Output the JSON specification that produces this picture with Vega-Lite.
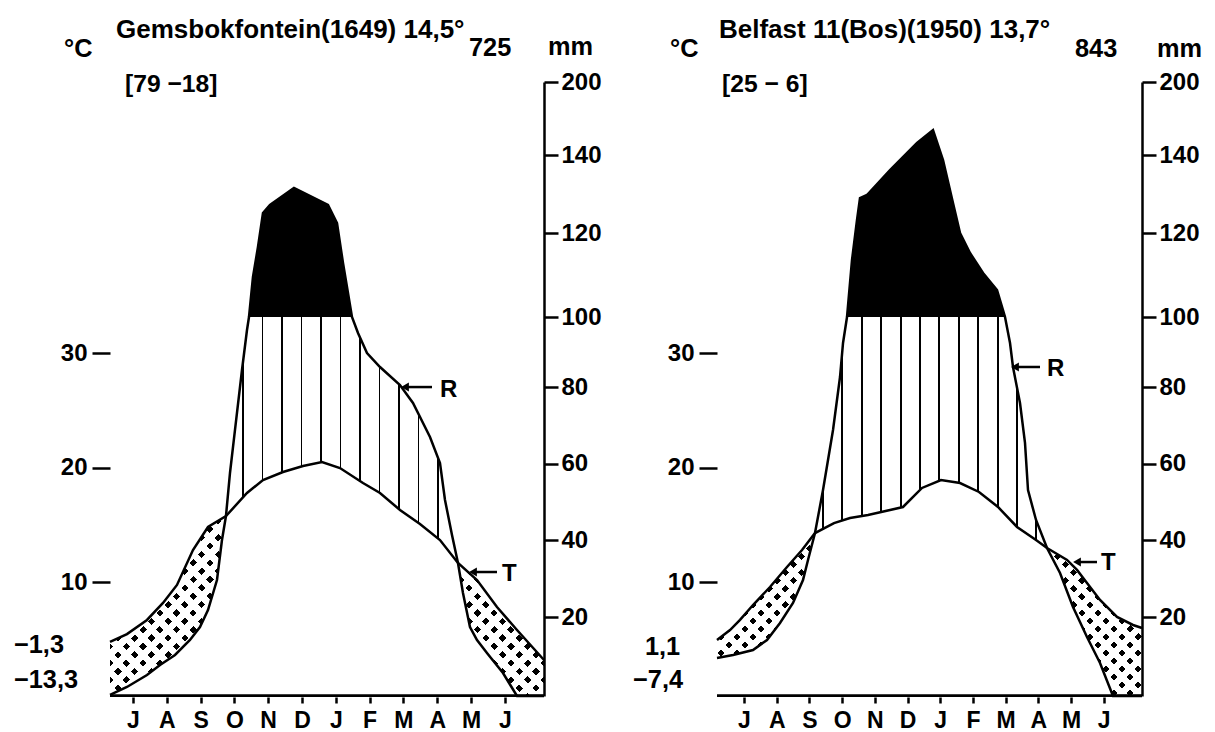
{
"$schema":"https://vega.github.io/schema/vega-lite/v6.json",
"width":1032,"height":640,
"autosize":{"type":"none"},
"padding":{"left":110,"top":57,"right":73,"bottom":35},
"background":"white",
"config":{"view":{"stroke":null},"axis":{"labelFont":"Liberation Sans","labelFontWeight":"bold","labelColor":"black","tickColor":"black","domainColor":"black","grid":false,"labelOverlap":false,"labelFlush":false,"zindex":1}},
"datasets":{
"tL":[{"m":-0.680,"t":4.80},{"m":-0.178,"t":5.49},{"m":0.414,"t":6.72},{"m":0.888,"t":8.20},{"m":1.302,"t":9.77},{"m":1.775,"t":12.82},{"m":2.219,"t":14.83},{"m":2.751,"t":15.78},{"m":3.373,"t":17.79},{"m":3.846,"t":18.92},{"m":4.438,"t":19.62},{"m":5.030,"t":20.15},{"m":5.592,"t":20.49},{"m":6.124,"t":19.97},{"m":6.805,"t":18.66},{"m":7.308,"t":17.79},{"m":7.899,"t":16.31},{"m":8.491,"t":15.09},{"m":9.083,"t":13.69},{"m":9.615,"t":11.69},{"m":10.178,"t":10.20},{"m":10.769,"t":7.85},{"m":11.361,"t":5.84},{"m":12.160,"t":3.23}],
"rL":[{"m":-0.680,"r":0.3},{"m":-0.178,"r":2.28},{"m":0.414,"r":5.32},{"m":0.799,"r":7.85},{"m":1.243,"r":10.38},{"m":1.686,"r":14.18},{"m":1.982,"r":17.47},{"m":2.219,"r":21.83},{"m":2.485,"r":29.65},{"m":2.633,"r":40.09},{"m":2.751,"r":46.35},{"m":2.870,"r":57.57},{"m":3.018,"r":68.79},{"m":3.225,"r":84.86},{"m":3.373,"r":96.29},{"m":3.432,"r":100},{"m":3.550,"r":109.52},{"m":3.698,"r":116.67},{"m":3.846,"r":125.13},{"m":4.053,"r":127.18},{"m":4.763,"r":131.54},{"m":5.769,"r":127.18},{"m":6.036,"r":122.56},{"m":6.213,"r":112.86},{"m":6.479,"r":100},{"m":6.657,"r":95.43},{"m":6.923,"r":89.71},{"m":7.308,"r":85.71},{"m":7.899,"r":80.57},{"m":8.284,"r":75.83},{"m":8.787,"r":66.96},{"m":9.083,"r":60.17},{"m":9.231,"r":50.52},{"m":9.438,"r":41.39},{"m":9.615,"r":34.09},{"m":9.763,"r":26.26},{"m":9.970,"r":17.47},{"m":10.178,"r":14.18},{"m":10.473,"r":10.89},{"m":10.947,"r":5.82},{"m":11.361,"r":0},{"m":12.160,"r":0}],
"anL":[{"m":-2.041,"t":55.81,"label":"°C","kind":"note"},{"m":-0.503,"t":57.47,"label":"Gemsbokfontein(1649) 14,5°","kind":"title"},{"m":9.941,"t":55.90,"label":"725","kind":"note"},{"m":12.278,"t":55.99,"label":"mm","kind":"note"},{"m":-0.237,"t":52.76,"label":"[79 −18]","kind":"bracket"},{"m":-3.521,"t":3.84,"label":"−1,3","kind":"note"},{"m":-3.521,"t":0.78,"label":"−13,3","kind":"note"},{"m":9.083,"t":26.16,"label":"R","kind":"arrow"},{"m":10.917,"t":10.12,"label":"T","kind":"arrow"}],
"arL":[{"m":8.047,"m2":8.846,"t":27.03},{"m":10.059,"m2":10.769,"t":10.90}],
"tR":[{"m":-0.826,"t":4.97},{"m":-0.428,"t":5.84},{"m":-0.122,"t":6.72},{"m":0.275,"t":8.02},{"m":0.795,"t":9.59},{"m":1.315,"t":11.34},{"m":1.774,"t":12.82},{"m":2.171,"t":14.30},{"m":2.752,"t":15.17},{"m":3.242,"t":15.61},{"m":3.792,"t":15.87},{"m":4.862,"t":16.57},{"m":5.443,"t":18.23},{"m":6.024,"t":18.92},{"m":6.606,"t":18.66},{"m":7.187,"t":17.88},{"m":7.768,"t":16.57},{"m":8.349,"t":14.83},{"m":8.930,"t":13.69},{"m":9.266,"t":12.99},{"m":9.878,"t":11.95},{"m":10.183,"t":11.08},{"m":10.489,"t":9.94},{"m":10.887,"t":8.46},{"m":11.407,"t":6.98},{"m":11.896,"t":6.28},{"m":12.171,"t":6.02}],
"rR":[{"m":-0.826,"r":9.62},{"m":-0.336,"r":10.38},{"m":0.275,"r":11.65},{"m":0.703,"r":14.18},{"m":1.101,"r":18.48},{"m":1.498,"r":23.65},{"m":1.804,"r":29.65},{"m":1.957,"r":34.87},{"m":2.171,"r":41.92},{"m":2.416,"r":53.13},{"m":2.722,"r":68.79},{"m":2.936,"r":82.86},{"m":3.028,"r":92.57},{"m":3.150,"r":100},{"m":3.303,"r":113.57},{"m":3.456,"r":123.33},{"m":3.547,"r":128.97},{"m":3.761,"r":129.74},{"m":4.465,"r":136.15},{"m":5.291,"r":149.86},{"m":5.780,"r":160.55},{"m":6.086,"r":138.72},{"m":6.391,"r":127.69},{"m":6.606,"r":120},{"m":6.911,"r":115.24},{"m":7.309,"r":110.48},{"m":7.737,"r":106.43},{"m":7.920,"r":101.67},{"m":7.982,"r":100},{"m":8.135,"r":92.57},{"m":8.226,"r":85.71},{"m":8.440,"r":75.83},{"m":8.593,"r":65.40},{"m":8.685,"r":53.13},{"m":8.930,"r":45.31},{"m":9.266,"r":38.0},{"m":9.664,"r":31.48},{"m":10.061,"r":22.61},{"m":10.489,"r":14.94},{"m":10.887,"r":8.36},{"m":11.284,"r":0},{"m":12.171,"r":0}],
"anR":[{"m":-2.263,"t":55.81,"label":"°C","kind":"note"},{"m":-0.765,"t":57.47,"label":"Belfast 11(Bos)(1950) 13,7°","kind":"title"},{"m":10.122,"t":55.81,"label":"843","kind":"note"},{"m":12.630,"t":55.81,"label":"mm","kind":"note"},{"m":-0.673,"t":52.76,"label":"[25 − 6]","kind":"bracket"},{"m":-3.028,"t":3.66,"label":"1,1","kind":"note"},{"m":-3.394,"t":0.78,"label":"−7,4","kind":"note"},{"m":9.266,"t":27.99,"label":"R","kind":"arrow"},{"m":10.917,"t":11.08,"label":"T","kind":"arrow"}],
"arR":[{"m":8.287,"m2":9.052,"t":28.78},{"m":10.183,"m2":10.795,"t":11.77}]
},
"resolve":{"scale":{"x":"independent","y":"independent"}},
"layer":[
{
"encoding":{"x":{"field":"m","type":"quantitative","scale":{"domain":[-0.68,12.16],"range":[0,434],"nice":false,"zero":false},"axis":{"orient":"bottom","zindex":2,"values":[0,1,2,3,4,5,6,7,8,9,10,11],"labelExpr":"['J','A','S','O','N','D','J','F','M','A','M','J'][datum.value]","title":null,"domain":false,"tickColor":"black","tickWidth":2.5,"tickSize":6,"labelFontSize":23,"labelPadding":6}}},
"resolve":{"scale":{"y":"independent"}},
"layer":[
{"data":{"name":"tL"},"mark":{"type":"area","opacity":1,"fill":{"gradient":"linear","x1":0,"y1":0,"x2":1.192,"y2":0.6454,"stops":[
{"offset":0.0195,"color":"#fff"},{"offset":0.0195,"color":"#000"},{"offset":0.0305,"color":"#000"},{"offset":0.0305,"color":"#fff"},
{"offset":0.0445,"color":"#fff"},{"offset":0.0445,"color":"#000"},{"offset":0.0555,"color":"#000"},{"offset":0.0555,"color":"#fff"},
{"offset":0.0695,"color":"#fff"},{"offset":0.0695,"color":"#000"},{"offset":0.0805,"color":"#000"},{"offset":0.0805,"color":"#fff"},
{"offset":0.0945,"color":"#fff"},{"offset":0.0945,"color":"#000"},{"offset":0.1055,"color":"#000"},{"offset":0.1055,"color":"#fff"},
{"offset":0.1195,"color":"#fff"},{"offset":0.1195,"color":"#000"},{"offset":0.1305,"color":"#000"},{"offset":0.1305,"color":"#fff"},
{"offset":0.1445,"color":"#fff"},{"offset":0.1445,"color":"#000"},{"offset":0.1555,"color":"#000"},{"offset":0.1555,"color":"#fff"},
{"offset":0.1695,"color":"#fff"},{"offset":0.1695,"color":"#000"},{"offset":0.1805,"color":"#000"},{"offset":0.1805,"color":"#fff"},
{"offset":0.1945,"color":"#fff"},{"offset":0.1945,"color":"#000"},{"offset":0.2055,"color":"#000"},{"offset":0.2055,"color":"#fff"},
{"offset":0.2195,"color":"#fff"},{"offset":0.2195,"color":"#000"},{"offset":0.2305,"color":"#000"},{"offset":0.2305,"color":"#fff"},
{"offset":0.2445,"color":"#fff"},{"offset":0.2445,"color":"#000"},{"offset":0.2555,"color":"#000"},{"offset":0.2555,"color":"#fff"},
{"offset":0.2695,"color":"#fff"},{"offset":0.2695,"color":"#000"},{"offset":0.2805,"color":"#000"},{"offset":0.2805,"color":"#fff"},
{"offset":0.2945,"color":"#fff"},{"offset":0.2945,"color":"#000"},{"offset":0.3055,"color":"#000"},{"offset":0.3055,"color":"#fff"},
{"offset":0.3195,"color":"#fff"},{"offset":0.3195,"color":"#000"},{"offset":0.3305,"color":"#000"},{"offset":0.3305,"color":"#fff"},
{"offset":0.3445,"color":"#fff"},{"offset":0.3445,"color":"#000"},{"offset":0.3555,"color":"#000"},{"offset":0.3555,"color":"#fff"},
{"offset":0.3695,"color":"#fff"},{"offset":0.3695,"color":"#000"},{"offset":0.3805,"color":"#000"},{"offset":0.3805,"color":"#fff"},
{"offset":0.3945,"color":"#fff"},{"offset":0.3945,"color":"#000"},{"offset":0.4055,"color":"#000"},{"offset":0.4055,"color":"#fff"},
{"offset":0.4195,"color":"#fff"},{"offset":0.4195,"color":"#000"},{"offset":0.4305,"color":"#000"},{"offset":0.4305,"color":"#fff"},
{"offset":0.4445,"color":"#fff"},{"offset":0.4445,"color":"#000"},{"offset":0.4555,"color":"#000"},{"offset":0.4555,"color":"#fff"},
{"offset":0.4695,"color":"#fff"},{"offset":0.4695,"color":"#000"},{"offset":0.4805,"color":"#000"},{"offset":0.4805,"color":"#fff"},
{"offset":0.4945,"color":"#fff"},{"offset":0.4945,"color":"#000"},{"offset":0.5055,"color":"#000"},{"offset":0.5055,"color":"#fff"},
{"offset":0.5195,"color":"#fff"},{"offset":0.5195,"color":"#000"},{"offset":0.5305,"color":"#000"},{"offset":0.5305,"color":"#fff"},
{"offset":0.5445,"color":"#fff"},{"offset":0.5445,"color":"#000"},{"offset":0.5555,"color":"#000"},{"offset":0.5555,"color":"#fff"},
{"offset":0.5695,"color":"#fff"},{"offset":0.5695,"color":"#000"},{"offset":0.5805,"color":"#000"},{"offset":0.5805,"color":"#fff"},
{"offset":0.5945,"color":"#fff"},{"offset":0.5945,"color":"#000"},{"offset":0.6055,"color":"#000"},{"offset":0.6055,"color":"#fff"},
{"offset":0.6195,"color":"#fff"},{"offset":0.6195,"color":"#000"},{"offset":0.6305,"color":"#000"},{"offset":0.6305,"color":"#fff"},
{"offset":0.6445,"color":"#fff"},{"offset":0.6445,"color":"#000"},{"offset":0.6555,"color":"#000"},{"offset":0.6555,"color":"#fff"},
{"offset":0.6695,"color":"#fff"},{"offset":0.6695,"color":"#000"},{"offset":0.6805,"color":"#000"},{"offset":0.6805,"color":"#fff"},
{"offset":0.6945,"color":"#fff"},{"offset":0.6945,"color":"#000"},{"offset":0.7055,"color":"#000"},{"offset":0.7055,"color":"#fff"},
{"offset":0.7195,"color":"#fff"},{"offset":0.7195,"color":"#000"},{"offset":0.7305,"color":"#000"},{"offset":0.7305,"color":"#fff"},
{"offset":0.7445,"color":"#fff"},{"offset":0.7445,"color":"#000"},{"offset":0.7555,"color":"#000"},{"offset":0.7555,"color":"#fff"},
{"offset":0.7695,"color":"#fff"},{"offset":0.7695,"color":"#000"},{"offset":0.7805,"color":"#000"},{"offset":0.7805,"color":"#fff"},
{"offset":0.7945,"color":"#fff"},{"offset":0.7945,"color":"#000"},{"offset":0.8055,"color":"#000"},{"offset":0.8055,"color":"#fff"},
{"offset":0.8195,"color":"#fff"},{"offset":0.8195,"color":"#000"},{"offset":0.8305,"color":"#000"},{"offset":0.8305,"color":"#fff"},
{"offset":0.8445,"color":"#fff"},{"offset":0.8445,"color":"#000"},{"offset":0.8555,"color":"#000"},{"offset":0.8555,"color":"#fff"},
{"offset":0.8695,"color":"#fff"},{"offset":0.8695,"color":"#000"},{"offset":0.8805,"color":"#000"},{"offset":0.8805,"color":"#fff"},
{"offset":0.8945,"color":"#fff"},{"offset":0.8945,"color":"#000"},{"offset":0.9055,"color":"#000"},{"offset":0.9055,"color":"#fff"},
{"offset":0.9195,"color":"#fff"},{"offset":0.9195,"color":"#000"},{"offset":0.9305,"color":"#000"},{"offset":0.9305,"color":"#fff"},
{"offset":0.9445,"color":"#fff"},{"offset":0.9445,"color":"#000"},{"offset":0.9555,"color":"#000"},{"offset":0.9555,"color":"#fff"},
{"offset":0.9695,"color":"#fff"},{"offset":0.9695,"color":"#000"},{"offset":0.9805,"color":"#000"},{"offset":0.9805,"color":"#fff"}]}},
"encoding":{"y":{"field":"t","type":"quantitative","scale":{"domain":[0,30],"range":[640,296],"nice":false,"zero":false},"axis":{"orient":"left","zindex":2,"values":[10,20,30],"title":null,"domain":false,"tickSize":18,"tickWidth":2.5,"labelFontSize":24,"labelPadding":5}},"y2":{"datum":0}}},
{"data":{"name":"tL"},"mark":{"type":"area","opacity":1,"fill":{"gradient":"linear","x1":0,"y1":1,"x2":1.192,"y2":0.3546,"stops":[
{"offset":0.0195,"color":"#fff"},{"offset":0.0195,"color":"transparent"},{"offset":0.0305,"color":"transparent"},{"offset":0.0305,"color":"#fff"},
{"offset":0.0445,"color":"#fff"},{"offset":0.0445,"color":"transparent"},{"offset":0.0555,"color":"transparent"},{"offset":0.0555,"color":"#fff"},
{"offset":0.0695,"color":"#fff"},{"offset":0.0695,"color":"transparent"},{"offset":0.0805,"color":"transparent"},{"offset":0.0805,"color":"#fff"},
{"offset":0.0945,"color":"#fff"},{"offset":0.0945,"color":"transparent"},{"offset":0.1055,"color":"transparent"},{"offset":0.1055,"color":"#fff"},
{"offset":0.1195,"color":"#fff"},{"offset":0.1195,"color":"transparent"},{"offset":0.1305,"color":"transparent"},{"offset":0.1305,"color":"#fff"},
{"offset":0.1445,"color":"#fff"},{"offset":0.1445,"color":"transparent"},{"offset":0.1555,"color":"transparent"},{"offset":0.1555,"color":"#fff"},
{"offset":0.1695,"color":"#fff"},{"offset":0.1695,"color":"transparent"},{"offset":0.1805,"color":"transparent"},{"offset":0.1805,"color":"#fff"},
{"offset":0.1945,"color":"#fff"},{"offset":0.1945,"color":"transparent"},{"offset":0.2055,"color":"transparent"},{"offset":0.2055,"color":"#fff"},
{"offset":0.2195,"color":"#fff"},{"offset":0.2195,"color":"transparent"},{"offset":0.2305,"color":"transparent"},{"offset":0.2305,"color":"#fff"},
{"offset":0.2445,"color":"#fff"},{"offset":0.2445,"color":"transparent"},{"offset":0.2555,"color":"transparent"},{"offset":0.2555,"color":"#fff"},
{"offset":0.2695,"color":"#fff"},{"offset":0.2695,"color":"transparent"},{"offset":0.2805,"color":"transparent"},{"offset":0.2805,"color":"#fff"},
{"offset":0.2945,"color":"#fff"},{"offset":0.2945,"color":"transparent"},{"offset":0.3055,"color":"transparent"},{"offset":0.3055,"color":"#fff"},
{"offset":0.3195,"color":"#fff"},{"offset":0.3195,"color":"transparent"},{"offset":0.3305,"color":"transparent"},{"offset":0.3305,"color":"#fff"},
{"offset":0.3445,"color":"#fff"},{"offset":0.3445,"color":"transparent"},{"offset":0.3555,"color":"transparent"},{"offset":0.3555,"color":"#fff"},
{"offset":0.3695,"color":"#fff"},{"offset":0.3695,"color":"transparent"},{"offset":0.3805,"color":"transparent"},{"offset":0.3805,"color":"#fff"},
{"offset":0.3945,"color":"#fff"},{"offset":0.3945,"color":"transparent"},{"offset":0.4055,"color":"transparent"},{"offset":0.4055,"color":"#fff"},
{"offset":0.4195,"color":"#fff"},{"offset":0.4195,"color":"transparent"},{"offset":0.4305,"color":"transparent"},{"offset":0.4305,"color":"#fff"},
{"offset":0.4445,"color":"#fff"},{"offset":0.4445,"color":"transparent"},{"offset":0.4555,"color":"transparent"},{"offset":0.4555,"color":"#fff"},
{"offset":0.4695,"color":"#fff"},{"offset":0.4695,"color":"transparent"},{"offset":0.4805,"color":"transparent"},{"offset":0.4805,"color":"#fff"},
{"offset":0.4945,"color":"#fff"},{"offset":0.4945,"color":"transparent"},{"offset":0.5055,"color":"transparent"},{"offset":0.5055,"color":"#fff"},
{"offset":0.5195,"color":"#fff"},{"offset":0.5195,"color":"transparent"},{"offset":0.5305,"color":"transparent"},{"offset":0.5305,"color":"#fff"},
{"offset":0.5445,"color":"#fff"},{"offset":0.5445,"color":"transparent"},{"offset":0.5555,"color":"transparent"},{"offset":0.5555,"color":"#fff"},
{"offset":0.5695,"color":"#fff"},{"offset":0.5695,"color":"transparent"},{"offset":0.5805,"color":"transparent"},{"offset":0.5805,"color":"#fff"},
{"offset":0.5945,"color":"#fff"},{"offset":0.5945,"color":"transparent"},{"offset":0.6055,"color":"transparent"},{"offset":0.6055,"color":"#fff"},
{"offset":0.6195,"color":"#fff"},{"offset":0.6195,"color":"transparent"},{"offset":0.6305,"color":"transparent"},{"offset":0.6305,"color":"#fff"},
{"offset":0.6445,"color":"#fff"},{"offset":0.6445,"color":"transparent"},{"offset":0.6555,"color":"transparent"},{"offset":0.6555,"color":"#fff"},
{"offset":0.6695,"color":"#fff"},{"offset":0.6695,"color":"transparent"},{"offset":0.6805,"color":"transparent"},{"offset":0.6805,"color":"#fff"},
{"offset":0.6945,"color":"#fff"},{"offset":0.6945,"color":"transparent"},{"offset":0.7055,"color":"transparent"},{"offset":0.7055,"color":"#fff"},
{"offset":0.7195,"color":"#fff"},{"offset":0.7195,"color":"transparent"},{"offset":0.7305,"color":"transparent"},{"offset":0.7305,"color":"#fff"},
{"offset":0.7445,"color":"#fff"},{"offset":0.7445,"color":"transparent"},{"offset":0.7555,"color":"transparent"},{"offset":0.7555,"color":"#fff"},
{"offset":0.7695,"color":"#fff"},{"offset":0.7695,"color":"transparent"},{"offset":0.7805,"color":"transparent"},{"offset":0.7805,"color":"#fff"},
{"offset":0.7945,"color":"#fff"},{"offset":0.7945,"color":"transparent"},{"offset":0.8055,"color":"transparent"},{"offset":0.8055,"color":"#fff"},
{"offset":0.8195,"color":"#fff"},{"offset":0.8195,"color":"transparent"},{"offset":0.8305,"color":"transparent"},{"offset":0.8305,"color":"#fff"},
{"offset":0.8445,"color":"#fff"},{"offset":0.8445,"color":"transparent"},{"offset":0.8555,"color":"transparent"},{"offset":0.8555,"color":"#fff"},
{"offset":0.8695,"color":"#fff"},{"offset":0.8695,"color":"transparent"},{"offset":0.8805,"color":"transparent"},{"offset":0.8805,"color":"#fff"},
{"offset":0.8945,"color":"#fff"},{"offset":0.8945,"color":"transparent"},{"offset":0.9055,"color":"transparent"},{"offset":0.9055,"color":"#fff"},
{"offset":0.9195,"color":"#fff"},{"offset":0.9195,"color":"transparent"},{"offset":0.9305,"color":"transparent"},{"offset":0.9305,"color":"#fff"},
{"offset":0.9445,"color":"#fff"},{"offset":0.9445,"color":"transparent"},{"offset":0.9555,"color":"transparent"},{"offset":0.9555,"color":"#fff"},
{"offset":0.9695,"color":"#fff"},{"offset":0.9695,"color":"transparent"},{"offset":0.9805,"color":"transparent"},{"offset":0.9805,"color":"#fff"}]}},
"encoding":{"y":{"field":"t","type":"quantitative","scale":{"domain":[0,30],"range":[640,296],"nice":false,"zero":false},"axis":null},"y2":{"datum":0}}},
{"data":{"name":"rL"},"mark":{"type":"area","opacity":1,"fill":"white"},
"encoding":{"y":{"field":"r","type":"quantitative","scale":{"domain":[0,20,80,100,120,140,200],"range":[639,560,330,260,176,98,25],"nice":false,"zero":false},"axis":{"orient":"right","zindex":2,"offset":-598,"values":[20,40,60,80,100,120,140,200],"title":null,"domain":true,"domainWidth":2.5,"tickSize":14,"tickWidth":2.5,"labelFontSize":24,"labelPadding":3}},"y2":{"datum":0}}},
{"data":{"name":"rL"},"transform":[{"filter":{"field":"m","range":[2.751,9.615]}}],"mark":{"type":"area","opacity":1,"fill":{"gradient":"linear","x1":0,"y1":0,"x2":1,"y2":0,"stops":[
{"offset":0.0693,"color":"#fff"},{"offset":0.0693,"color":"#000"},{"offset":0.0773,"color":"#000"},{"offset":0.0773,"color":"#fff"},
{"offset":0.1533,"color":"#fff"},{"offset":0.1533,"color":"#000"},{"offset":0.1613,"color":"#000"},{"offset":0.1613,"color":"#fff"},
{"offset":0.2374,"color":"#fff"},{"offset":0.2374,"color":"#000"},{"offset":0.2454,"color":"#000"},{"offset":0.2454,"color":"#fff"},
{"offset":0.3214,"color":"#fff"},{"offset":0.3214,"color":"#000"},{"offset":0.3294,"color":"#000"},{"offset":0.3294,"color":"#fff"},
{"offset":0.4055,"color":"#fff"},{"offset":0.4055,"color":"#000"},{"offset":0.4135,"color":"#000"},{"offset":0.4135,"color":"#fff"},
{"offset":0.4895,"color":"#fff"},{"offset":0.4895,"color":"#000"},{"offset":0.4975,"color":"#000"},{"offset":0.4975,"color":"#fff"},
{"offset":0.5736,"color":"#fff"},{"offset":0.5736,"color":"#000"},{"offset":0.5816,"color":"#000"},{"offset":0.5816,"color":"#fff"},
{"offset":0.6576,"color":"#fff"},{"offset":0.6576,"color":"#000"},{"offset":0.6656,"color":"#000"},{"offset":0.6656,"color":"#fff"},
{"offset":0.7417,"color":"#fff"},{"offset":0.7417,"color":"#000"},{"offset":0.7497,"color":"#000"},{"offset":0.7497,"color":"#fff"},
{"offset":0.8257,"color":"#fff"},{"offset":0.8257,"color":"#000"},{"offset":0.8337,"color":"#000"},{"offset":0.8337,"color":"#fff"},
{"offset":0.9098,"color":"#fff"},{"offset":0.9098,"color":"#000"},{"offset":0.9178,"color":"#000"},{"offset":0.9178,"color":"#fff"}]}},
"encoding":{"y":{"field":"r","type":"quantitative","scale":{"domain":[0,20,80,100,120,140,200],"range":[639,560,330,260,176,98,25],"nice":false,"zero":false},"axis":null},"y2":{"datum":0}}},
{"data":{"name":"tL"},"transform":[{"filter":{"field":"m","range":[2.751,9.615]}}],"mark":{"type":"area","opacity":1,"fill":"white"},
"encoding":{"y":{"field":"t","type":"quantitative","scale":{"domain":[0,30],"range":[640,296],"nice":false,"zero":false},"axis":null},"y2":{"datum":0}}},
{"data":{"name":"rL"},"transform":[{"filter":{"field":"r","gte":100}}],"mark":{"type":"area","opacity":1,"fill":"black"},
"encoding":{"y":{"field":"r","type":"quantitative","scale":{"domain":[0,20,80,100,120,140,200],"range":[639,560,330,260,176,98,25],"nice":false,"zero":false},"axis":null},"y2":{"datum":100}}},
{"data":{"name":"tL"},"mark":{"type":"line","color":"black","strokeWidth":2.5},
"encoding":{"y":{"field":"t","type":"quantitative","scale":{"domain":[0,30],"range":[640,296],"nice":false,"zero":false},"axis":null}}},
{"data":{"name":"rL"},"mark":{"type":"line","color":"black","strokeWidth":2.5},
"encoding":{"y":{"field":"r","type":"quantitative","scale":{"domain":[0,20,80,100,120,140,200],"range":[639,560,330,260,176,98,25],"nice":false,"zero":false},"axis":null}}},
{"data":{"name":"tL"},"mark":{"type":"area","fill":"black","opacity":1},
"encoding":{"y":{"datum":0.24,"type":"quantitative","scale":{"domain":[0,30],"range":[640,296],"nice":false,"zero":false},"axis":null},"y2":{"datum":0}}},
{"data":{"values":[{}]},"mark":{"type":"rule","color":"black","strokeWidth":2.5},
"encoding":{"x":{"datum":-0.68,"type":"quantitative"},"y":{"datum":0,"type":"quantitative","scale":{"domain":[0,30],"range":[640,296],"nice":false,"zero":false},"axis":null},"y2":{"datum":53.4}}},
{"data":{"name":"arL"},"mark":{"type":"rule","color":"black","strokeWidth":2.5},
"encoding":{"x2":{"field":"m2"},"y":{"field":"t","type":"quantitative","scale":{"domain":[0,30],"range":[640,296],"nice":false,"zero":false},"axis":null}}},
{"data":{"name":"arL"},"mark":{"type":"point","shape":"triangle-left","filled":true,"size":80,"color":"black","opacity":1},
"encoding":{"y":{"field":"t","type":"quantitative","scale":{"domain":[0,30],"range":[640,296],"nice":false,"zero":false},"axis":null}}},
{"data":{"name":"anL"},"mark":{"type":"text","align":"left","baseline":"alphabetic","font":"Liberation Sans","fontWeight":"bold","color":"black"},
"encoding":{"y":{"field":"t","type":"quantitative","scale":{"domain":[0,30],"range":[640,296],"nice":false,"zero":false},"axis":null},"text":{"field":"label"},"size":{"field":"kind","type":"ordinal","scale":{"domain":["title","note","bracket","arrow"],"range":[26,24,27,21]},"legend":null}}}
]
},
{
"encoding":{"x":{"field":"m","type":"quantitative","scale":{"domain":[-0.826,12.171],"range":[607,1032],"nice":false,"zero":false},"axis":{"orient":"bottom","zindex":2,"values":[0,1,2,3,4,5,6,7,8,9,10,11],"labelExpr":"['J','A','S','O','N','D','J','F','M','A','M','J'][datum.value]","title":null,"domain":false,"tickColor":"black","tickWidth":2.5,"tickSize":6,"labelFontSize":23,"labelPadding":6}}},
"resolve":{"scale":{"y":"independent"}},
"layer":[
{"data":{"name":"tR"},"mark":{"type":"area","opacity":1,"fill":{"gradient":"linear","x1":0,"y1":0,"x2":1.1982,"y2":0.6118,"stops":[
{"offset":0.0195,"color":"#fff"},{"offset":0.0195,"color":"#000"},{"offset":0.0305,"color":"#000"},{"offset":0.0305,"color":"#fff"},
{"offset":0.0445,"color":"#fff"},{"offset":0.0445,"color":"#000"},{"offset":0.0555,"color":"#000"},{"offset":0.0555,"color":"#fff"},
{"offset":0.0695,"color":"#fff"},{"offset":0.0695,"color":"#000"},{"offset":0.0805,"color":"#000"},{"offset":0.0805,"color":"#fff"},
{"offset":0.0945,"color":"#fff"},{"offset":0.0945,"color":"#000"},{"offset":0.1055,"color":"#000"},{"offset":0.1055,"color":"#fff"},
{"offset":0.1195,"color":"#fff"},{"offset":0.1195,"color":"#000"},{"offset":0.1305,"color":"#000"},{"offset":0.1305,"color":"#fff"},
{"offset":0.1445,"color":"#fff"},{"offset":0.1445,"color":"#000"},{"offset":0.1555,"color":"#000"},{"offset":0.1555,"color":"#fff"},
{"offset":0.1695,"color":"#fff"},{"offset":0.1695,"color":"#000"},{"offset":0.1805,"color":"#000"},{"offset":0.1805,"color":"#fff"},
{"offset":0.1945,"color":"#fff"},{"offset":0.1945,"color":"#000"},{"offset":0.2055,"color":"#000"},{"offset":0.2055,"color":"#fff"},
{"offset":0.2195,"color":"#fff"},{"offset":0.2195,"color":"#000"},{"offset":0.2305,"color":"#000"},{"offset":0.2305,"color":"#fff"},
{"offset":0.2445,"color":"#fff"},{"offset":0.2445,"color":"#000"},{"offset":0.2555,"color":"#000"},{"offset":0.2555,"color":"#fff"},
{"offset":0.2695,"color":"#fff"},{"offset":0.2695,"color":"#000"},{"offset":0.2805,"color":"#000"},{"offset":0.2805,"color":"#fff"},
{"offset":0.2945,"color":"#fff"},{"offset":0.2945,"color":"#000"},{"offset":0.3055,"color":"#000"},{"offset":0.3055,"color":"#fff"},
{"offset":0.3195,"color":"#fff"},{"offset":0.3195,"color":"#000"},{"offset":0.3305,"color":"#000"},{"offset":0.3305,"color":"#fff"},
{"offset":0.3445,"color":"#fff"},{"offset":0.3445,"color":"#000"},{"offset":0.3555,"color":"#000"},{"offset":0.3555,"color":"#fff"},
{"offset":0.3695,"color":"#fff"},{"offset":0.3695,"color":"#000"},{"offset":0.3805,"color":"#000"},{"offset":0.3805,"color":"#fff"},
{"offset":0.3945,"color":"#fff"},{"offset":0.3945,"color":"#000"},{"offset":0.4055,"color":"#000"},{"offset":0.4055,"color":"#fff"},
{"offset":0.4195,"color":"#fff"},{"offset":0.4195,"color":"#000"},{"offset":0.4305,"color":"#000"},{"offset":0.4305,"color":"#fff"},
{"offset":0.4445,"color":"#fff"},{"offset":0.4445,"color":"#000"},{"offset":0.4555,"color":"#000"},{"offset":0.4555,"color":"#fff"},
{"offset":0.4695,"color":"#fff"},{"offset":0.4695,"color":"#000"},{"offset":0.4805,"color":"#000"},{"offset":0.4805,"color":"#fff"},
{"offset":0.4945,"color":"#fff"},{"offset":0.4945,"color":"#000"},{"offset":0.5055,"color":"#000"},{"offset":0.5055,"color":"#fff"},
{"offset":0.5195,"color":"#fff"},{"offset":0.5195,"color":"#000"},{"offset":0.5305,"color":"#000"},{"offset":0.5305,"color":"#fff"},
{"offset":0.5445,"color":"#fff"},{"offset":0.5445,"color":"#000"},{"offset":0.5555,"color":"#000"},{"offset":0.5555,"color":"#fff"},
{"offset":0.5695,"color":"#fff"},{"offset":0.5695,"color":"#000"},{"offset":0.5805,"color":"#000"},{"offset":0.5805,"color":"#fff"},
{"offset":0.5945,"color":"#fff"},{"offset":0.5945,"color":"#000"},{"offset":0.6055,"color":"#000"},{"offset":0.6055,"color":"#fff"},
{"offset":0.6195,"color":"#fff"},{"offset":0.6195,"color":"#000"},{"offset":0.6305,"color":"#000"},{"offset":0.6305,"color":"#fff"},
{"offset":0.6445,"color":"#fff"},{"offset":0.6445,"color":"#000"},{"offset":0.6555,"color":"#000"},{"offset":0.6555,"color":"#fff"},
{"offset":0.6695,"color":"#fff"},{"offset":0.6695,"color":"#000"},{"offset":0.6805,"color":"#000"},{"offset":0.6805,"color":"#fff"},
{"offset":0.6945,"color":"#fff"},{"offset":0.6945,"color":"#000"},{"offset":0.7055,"color":"#000"},{"offset":0.7055,"color":"#fff"},
{"offset":0.7195,"color":"#fff"},{"offset":0.7195,"color":"#000"},{"offset":0.7305,"color":"#000"},{"offset":0.7305,"color":"#fff"},
{"offset":0.7445,"color":"#fff"},{"offset":0.7445,"color":"#000"},{"offset":0.7555,"color":"#000"},{"offset":0.7555,"color":"#fff"},
{"offset":0.7695,"color":"#fff"},{"offset":0.7695,"color":"#000"},{"offset":0.7805,"color":"#000"},{"offset":0.7805,"color":"#fff"},
{"offset":0.7945,"color":"#fff"},{"offset":0.7945,"color":"#000"},{"offset":0.8055,"color":"#000"},{"offset":0.8055,"color":"#fff"},
{"offset":0.8195,"color":"#fff"},{"offset":0.8195,"color":"#000"},{"offset":0.8305,"color":"#000"},{"offset":0.8305,"color":"#fff"},
{"offset":0.8445,"color":"#fff"},{"offset":0.8445,"color":"#000"},{"offset":0.8555,"color":"#000"},{"offset":0.8555,"color":"#fff"},
{"offset":0.8695,"color":"#fff"},{"offset":0.8695,"color":"#000"},{"offset":0.8805,"color":"#000"},{"offset":0.8805,"color":"#fff"},
{"offset":0.8945,"color":"#fff"},{"offset":0.8945,"color":"#000"},{"offset":0.9055,"color":"#000"},{"offset":0.9055,"color":"#fff"},
{"offset":0.9195,"color":"#fff"},{"offset":0.9195,"color":"#000"},{"offset":0.9305,"color":"#000"},{"offset":0.9305,"color":"#fff"},
{"offset":0.9445,"color":"#fff"},{"offset":0.9445,"color":"#000"},{"offset":0.9555,"color":"#000"},{"offset":0.9555,"color":"#fff"},
{"offset":0.9695,"color":"#fff"},{"offset":0.9695,"color":"#000"},{"offset":0.9805,"color":"#000"},{"offset":0.9805,"color":"#fff"}]}},
"encoding":{"y":{"field":"t","type":"quantitative","scale":{"domain":[0,30],"range":[640,296],"nice":false,"zero":false},"axis":{"orient":"left","zindex":2,"offset":-607,"values":[10,20,30],"title":null,"domain":false,"tickSize":18,"tickWidth":2.5,"labelFontSize":24,"labelPadding":5}},"y2":{"datum":0}}},
{"data":{"name":"tR"},"mark":{"type":"area","opacity":1,"fill":{"gradient":"linear","x1":0,"y1":1,"x2":1.1982,"y2":0.3882,"stops":[
{"offset":0.0195,"color":"#fff"},{"offset":0.0195,"color":"transparent"},{"offset":0.0305,"color":"transparent"},{"offset":0.0305,"color":"#fff"},
{"offset":0.0445,"color":"#fff"},{"offset":0.0445,"color":"transparent"},{"offset":0.0555,"color":"transparent"},{"offset":0.0555,"color":"#fff"},
{"offset":0.0695,"color":"#fff"},{"offset":0.0695,"color":"transparent"},{"offset":0.0805,"color":"transparent"},{"offset":0.0805,"color":"#fff"},
{"offset":0.0945,"color":"#fff"},{"offset":0.0945,"color":"transparent"},{"offset":0.1055,"color":"transparent"},{"offset":0.1055,"color":"#fff"},
{"offset":0.1195,"color":"#fff"},{"offset":0.1195,"color":"transparent"},{"offset":0.1305,"color":"transparent"},{"offset":0.1305,"color":"#fff"},
{"offset":0.1445,"color":"#fff"},{"offset":0.1445,"color":"transparent"},{"offset":0.1555,"color":"transparent"},{"offset":0.1555,"color":"#fff"},
{"offset":0.1695,"color":"#fff"},{"offset":0.1695,"color":"transparent"},{"offset":0.1805,"color":"transparent"},{"offset":0.1805,"color":"#fff"},
{"offset":0.1945,"color":"#fff"},{"offset":0.1945,"color":"transparent"},{"offset":0.2055,"color":"transparent"},{"offset":0.2055,"color":"#fff"},
{"offset":0.2195,"color":"#fff"},{"offset":0.2195,"color":"transparent"},{"offset":0.2305,"color":"transparent"},{"offset":0.2305,"color":"#fff"},
{"offset":0.2445,"color":"#fff"},{"offset":0.2445,"color":"transparent"},{"offset":0.2555,"color":"transparent"},{"offset":0.2555,"color":"#fff"},
{"offset":0.2695,"color":"#fff"},{"offset":0.2695,"color":"transparent"},{"offset":0.2805,"color":"transparent"},{"offset":0.2805,"color":"#fff"},
{"offset":0.2945,"color":"#fff"},{"offset":0.2945,"color":"transparent"},{"offset":0.3055,"color":"transparent"},{"offset":0.3055,"color":"#fff"},
{"offset":0.3195,"color":"#fff"},{"offset":0.3195,"color":"transparent"},{"offset":0.3305,"color":"transparent"},{"offset":0.3305,"color":"#fff"},
{"offset":0.3445,"color":"#fff"},{"offset":0.3445,"color":"transparent"},{"offset":0.3555,"color":"transparent"},{"offset":0.3555,"color":"#fff"},
{"offset":0.3695,"color":"#fff"},{"offset":0.3695,"color":"transparent"},{"offset":0.3805,"color":"transparent"},{"offset":0.3805,"color":"#fff"},
{"offset":0.3945,"color":"#fff"},{"offset":0.3945,"color":"transparent"},{"offset":0.4055,"color":"transparent"},{"offset":0.4055,"color":"#fff"},
{"offset":0.4195,"color":"#fff"},{"offset":0.4195,"color":"transparent"},{"offset":0.4305,"color":"transparent"},{"offset":0.4305,"color":"#fff"},
{"offset":0.4445,"color":"#fff"},{"offset":0.4445,"color":"transparent"},{"offset":0.4555,"color":"transparent"},{"offset":0.4555,"color":"#fff"},
{"offset":0.4695,"color":"#fff"},{"offset":0.4695,"color":"transparent"},{"offset":0.4805,"color":"transparent"},{"offset":0.4805,"color":"#fff"},
{"offset":0.4945,"color":"#fff"},{"offset":0.4945,"color":"transparent"},{"offset":0.5055,"color":"transparent"},{"offset":0.5055,"color":"#fff"},
{"offset":0.5195,"color":"#fff"},{"offset":0.5195,"color":"transparent"},{"offset":0.5305,"color":"transparent"},{"offset":0.5305,"color":"#fff"},
{"offset":0.5445,"color":"#fff"},{"offset":0.5445,"color":"transparent"},{"offset":0.5555,"color":"transparent"},{"offset":0.5555,"color":"#fff"},
{"offset":0.5695,"color":"#fff"},{"offset":0.5695,"color":"transparent"},{"offset":0.5805,"color":"transparent"},{"offset":0.5805,"color":"#fff"},
{"offset":0.5945,"color":"#fff"},{"offset":0.5945,"color":"transparent"},{"offset":0.6055,"color":"transparent"},{"offset":0.6055,"color":"#fff"},
{"offset":0.6195,"color":"#fff"},{"offset":0.6195,"color":"transparent"},{"offset":0.6305,"color":"transparent"},{"offset":0.6305,"color":"#fff"},
{"offset":0.6445,"color":"#fff"},{"offset":0.6445,"color":"transparent"},{"offset":0.6555,"color":"transparent"},{"offset":0.6555,"color":"#fff"},
{"offset":0.6695,"color":"#fff"},{"offset":0.6695,"color":"transparent"},{"offset":0.6805,"color":"transparent"},{"offset":0.6805,"color":"#fff"},
{"offset":0.6945,"color":"#fff"},{"offset":0.6945,"color":"transparent"},{"offset":0.7055,"color":"transparent"},{"offset":0.7055,"color":"#fff"},
{"offset":0.7195,"color":"#fff"},{"offset":0.7195,"color":"transparent"},{"offset":0.7305,"color":"transparent"},{"offset":0.7305,"color":"#fff"},
{"offset":0.7445,"color":"#fff"},{"offset":0.7445,"color":"transparent"},{"offset":0.7555,"color":"transparent"},{"offset":0.7555,"color":"#fff"},
{"offset":0.7695,"color":"#fff"},{"offset":0.7695,"color":"transparent"},{"offset":0.7805,"color":"transparent"},{"offset":0.7805,"color":"#fff"},
{"offset":0.7945,"color":"#fff"},{"offset":0.7945,"color":"transparent"},{"offset":0.8055,"color":"transparent"},{"offset":0.8055,"color":"#fff"},
{"offset":0.8195,"color":"#fff"},{"offset":0.8195,"color":"transparent"},{"offset":0.8305,"color":"transparent"},{"offset":0.8305,"color":"#fff"},
{"offset":0.8445,"color":"#fff"},{"offset":0.8445,"color":"transparent"},{"offset":0.8555,"color":"transparent"},{"offset":0.8555,"color":"#fff"},
{"offset":0.8695,"color":"#fff"},{"offset":0.8695,"color":"transparent"},{"offset":0.8805,"color":"transparent"},{"offset":0.8805,"color":"#fff"},
{"offset":0.8945,"color":"#fff"},{"offset":0.8945,"color":"transparent"},{"offset":0.9055,"color":"transparent"},{"offset":0.9055,"color":"#fff"},
{"offset":0.9195,"color":"#fff"},{"offset":0.9195,"color":"transparent"},{"offset":0.9305,"color":"transparent"},{"offset":0.9305,"color":"#fff"},
{"offset":0.9445,"color":"#fff"},{"offset":0.9445,"color":"transparent"},{"offset":0.9555,"color":"transparent"},{"offset":0.9555,"color":"#fff"},
{"offset":0.9695,"color":"#fff"},{"offset":0.9695,"color":"transparent"},{"offset":0.9805,"color":"transparent"},{"offset":0.9805,"color":"#fff"}]}},
"encoding":{"y":{"field":"t","type":"quantitative","scale":{"domain":[0,30],"range":[640,296],"nice":false,"zero":false},"axis":null},"y2":{"datum":0}}},
{"data":{"name":"rR"},"mark":{"type":"area","opacity":1,"fill":"white"},
"encoding":{"y":{"field":"r","type":"quantitative","scale":{"domain":[0,20,80,100,120,140,200],"range":[639,560,330,260,176,98,25],"nice":false,"zero":false},"axis":{"orient":"right","zindex":2,"values":[20,40,60,80,100,120,140,200],"title":null,"domain":true,"domainWidth":2.5,"tickSize":14,"tickWidth":2.5,"labelFontSize":24,"labelPadding":3}},"y2":{"datum":0}}},
{"data":{"name":"rR"},"transform":[{"filter":{"field":"m","range":[2.171,9.266]}}],"mark":{"type":"area","opacity":1,"fill":{"gradient":"linear","x1":0,"y1":0,"x2":1,"y2":0,"stops":[
{"offset":0.0305,"color":"#fff"},{"offset":0.0305,"color":"#000"},{"offset":0.0385,"color":"#000"},{"offset":0.0385,"color":"#fff"},
{"offset":0.1141,"color":"#fff"},{"offset":0.1141,"color":"#000"},{"offset":0.1221,"color":"#000"},{"offset":0.1221,"color":"#fff"},
{"offset":0.1977,"color":"#fff"},{"offset":0.1977,"color":"#000"},{"offset":0.2057,"color":"#000"},{"offset":0.2057,"color":"#fff"},
{"offset":0.2813,"color":"#fff"},{"offset":0.2813,"color":"#000"},{"offset":0.2893,"color":"#000"},{"offset":0.2893,"color":"#fff"},
{"offset":0.3650,"color":"#fff"},{"offset":0.3650,"color":"#000"},{"offset":0.3730,"color":"#000"},{"offset":0.3730,"color":"#fff"},
{"offset":0.4486,"color":"#fff"},{"offset":0.4486,"color":"#000"},{"offset":0.4566,"color":"#000"},{"offset":0.4566,"color":"#fff"},
{"offset":0.5322,"color":"#fff"},{"offset":0.5322,"color":"#000"},{"offset":0.5402,"color":"#000"},{"offset":0.5402,"color":"#fff"},
{"offset":0.6158,"color":"#fff"},{"offset":0.6158,"color":"#000"},{"offset":0.6238,"color":"#000"},{"offset":0.6238,"color":"#fff"},
{"offset":0.6994,"color":"#fff"},{"offset":0.6994,"color":"#000"},{"offset":0.7074,"color":"#000"},{"offset":0.7074,"color":"#fff"},
{"offset":0.7831,"color":"#fff"},{"offset":0.7831,"color":"#000"},{"offset":0.7911,"color":"#000"},{"offset":0.7911,"color":"#fff"},
{"offset":0.8667,"color":"#fff"},{"offset":0.8667,"color":"#000"},{"offset":0.8747,"color":"#000"},{"offset":0.8747,"color":"#fff"},
{"offset":0.9503,"color":"#fff"},{"offset":0.9503,"color":"#000"},{"offset":0.9583,"color":"#000"},{"offset":0.9583,"color":"#fff"}]}},
"encoding":{"y":{"field":"r","type":"quantitative","scale":{"domain":[0,20,80,100,120,140,200],"range":[639,560,330,260,176,98,25],"nice":false,"zero":false},"axis":null},"y2":{"datum":0}}},
{"data":{"name":"tR"},"transform":[{"filter":{"field":"m","range":[2.171,9.266]}}],"mark":{"type":"area","opacity":1,"fill":"white"},
"encoding":{"y":{"field":"t","type":"quantitative","scale":{"domain":[0,30],"range":[640,296],"nice":false,"zero":false},"axis":null},"y2":{"datum":0}}},
{"data":{"name":"rR"},"transform":[{"filter":{"field":"r","gte":100}}],"mark":{"type":"area","opacity":1,"fill":"black"},
"encoding":{"y":{"field":"r","type":"quantitative","scale":{"domain":[0,20,80,100,120,140,200],"range":[639,560,330,260,176,98,25],"nice":false,"zero":false},"axis":null},"y2":{"datum":100}}},
{"data":{"name":"tR"},"mark":{"type":"line","color":"black","strokeWidth":2.5},
"encoding":{"y":{"field":"t","type":"quantitative","scale":{"domain":[0,30],"range":[640,296],"nice":false,"zero":false},"axis":null}}},
{"data":{"name":"rR"},"mark":{"type":"line","color":"black","strokeWidth":2.5},
"encoding":{"y":{"field":"r","type":"quantitative","scale":{"domain":[0,20,80,100,120,140,200],"range":[639,560,330,260,176,98,25],"nice":false,"zero":false},"axis":null}}},
{"data":{"name":"tR"},"mark":{"type":"area","fill":"black","opacity":1},
"encoding":{"y":{"datum":0.24,"type":"quantitative","scale":{"domain":[0,30],"range":[640,296],"nice":false,"zero":false},"axis":null},"y2":{"datum":0}}},
{"data":{"values":[{}]},"mark":{"type":"rule","color":"black","strokeWidth":2.5},
"encoding":{"x":{"datum":-0.826,"type":"quantitative"},"y":{"datum":0,"type":"quantitative","scale":{"domain":[0,30],"range":[640,296],"nice":false,"zero":false},"axis":null},"y2":{"datum":53.4}}},
{"data":{"name":"arR"},"mark":{"type":"rule","color":"black","strokeWidth":2.5},
"encoding":{"x2":{"field":"m2"},"y":{"field":"t","type":"quantitative","scale":{"domain":[0,30],"range":[640,296],"nice":false,"zero":false},"axis":null}}},
{"data":{"name":"arR"},"mark":{"type":"point","shape":"triangle-left","filled":true,"size":80,"color":"black","opacity":1},
"encoding":{"y":{"field":"t","type":"quantitative","scale":{"domain":[0,30],"range":[640,296],"nice":false,"zero":false},"axis":null}}},
{"data":{"name":"anR"},"mark":{"type":"text","align":"left","baseline":"alphabetic","font":"Liberation Sans","fontWeight":"bold","color":"black"},
"encoding":{"y":{"field":"t","type":"quantitative","scale":{"domain":[0,30],"range":[640,296],"nice":false,"zero":false},"axis":null},"text":{"field":"label"},"size":{"field":"kind","type":"ordinal","scale":{"domain":["title","note","bracket","arrow"],"range":[26,24,27,21]},"legend":null}}}
]
}
]
}
